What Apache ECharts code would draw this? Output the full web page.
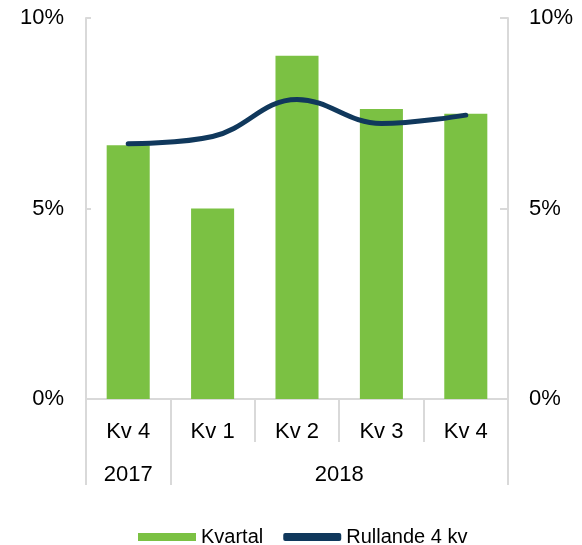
<!DOCTYPE html>
<html>
<head>
<meta charset="UTF-8">
<title>Kvartal</title>
<script src="https://cdn.jsdelivr.net/npm/echarts@6/dist/echarts.min.js"></script>
</head>
<body style="margin:0">
	<div id="main" style="width:582px;height:545px;"></div>
	<script type="text/javascript">
		// data
		var quarters = ['Kv 4', 'Kv 1', 'Kv 2', 'Kv 3', 'Kv 4'];
		var years = ['2017', '2018'];
		var yearCounts = [1, 4];
		var kvartal = [6.66, 5.0, 9.01, 7.61, 7.49];
		var rullande = [6.70, 6.89, 7.86, 7.23, 7.45];

		// year axis: 2 points per quarter (boundaries + centres)
		var yearAxis = [];
		for (var i = 0; i <= quarters.length * 2; i++) yearAxis.push('');
		var tickIdx = {};
		var start = 0;
		for (var j = 0; j < years.length; j++) {
			yearAxis[2 * start + yearCounts[j]] = years[j];
			tickIdx[2 * start] = true;
			start += yearCounts[j];
		}
		tickIdx[2 * start] = true;

		var font = 'Liberation Sans, Arial, sans-serif';
		var grey = '#d9d9d9';

		var myChart = echarts.init(document.getElementById('main'));
		var option = {
			textStyle: {fontFamily: font},
			grid: {left: 86, right: 74, top: 18, bottom: 146},
			legend: {
				left: 133,
				top: 522,
				itemWidth: 58,
				itemHeight: 8,
				itemGap: 20,
				textStyle: {fontSize: 20, color: '#000', fontFamily: font},
				data: [
					{name: 'Kvartal', icon: 'rect'},
					{name: 'Rullande 4 kv', icon: 'roundRect'}
				]
			},
			xAxis: [
				{
					type: 'category',
					data: quarters,
					axisLine: {lineStyle: {color: grey, width: 2}},
					axisTick: {show: true, interval: 0, length: 43, lineStyle: {color: grey, width: 2}},
					axisLabel: {fontSize: 22, color: '#000', margin: 22, interval: 0}
				},
				{
					type: 'category',
					position: 'bottom',
					boundaryGap: false,
					data: yearAxis,
					axisLine: {show: false},
					axisTick: {
						length: 86,
						interval: function (idx) { return !!tickIdx[idx]; },
						lineStyle: {color: grey, width: 2}
					},
					axisLabel: {fontSize: 22, color: '#000', margin: 65, interval: 0}
				}
			],
			yAxis: [
				{
					type: 'value',
					min: 0, max: 10, interval: 5,
					axisLine: {show: true, lineStyle: {color: grey, width: 2}},
					axisTick: {show: true, inside: true, length: 5, lineStyle: {color: grey, width: 2}},
					axisLabel: {fontSize: 22, color: '#000', margin: 22, formatter: '{value}%', padding: [4, 0, 0, 0]},
					splitLine: {show: false}
				},
				{
					type: 'value',
					min: 0, max: 10, interval: 5,
					position: 'right',
					axisLine: {show: true, lineStyle: {color: grey, width: 2}},
					axisTick: {show: true, inside: true, length: 8, lineStyle: {color: grey, width: 2}},
					axisLabel: {fontSize: 22, color: '#000', margin: 21, formatter: '{value}%', padding: [4, 0, 0, 0]},
					splitLine: {show: false}
				}
			],
			series: [
				{
					name: 'Kvartal',
					type: 'bar',
					data: kvartal,
					barWidth: '51%',
					itemStyle: {color: '#7bc143'}
				},
				{
					name: 'Rullande 4 kv',
					type: 'line',
					data: rullande,
					smooth: 0.4,
					showSymbol: false,
					symbol: 'none',
					lineStyle: {color: '#10385c', width: 5, cap: 'round'},
					itemStyle: {color: '#10385c'}
				}
			]
		};
		myChart.setOption(option);
	</script>
</body>
</html>
